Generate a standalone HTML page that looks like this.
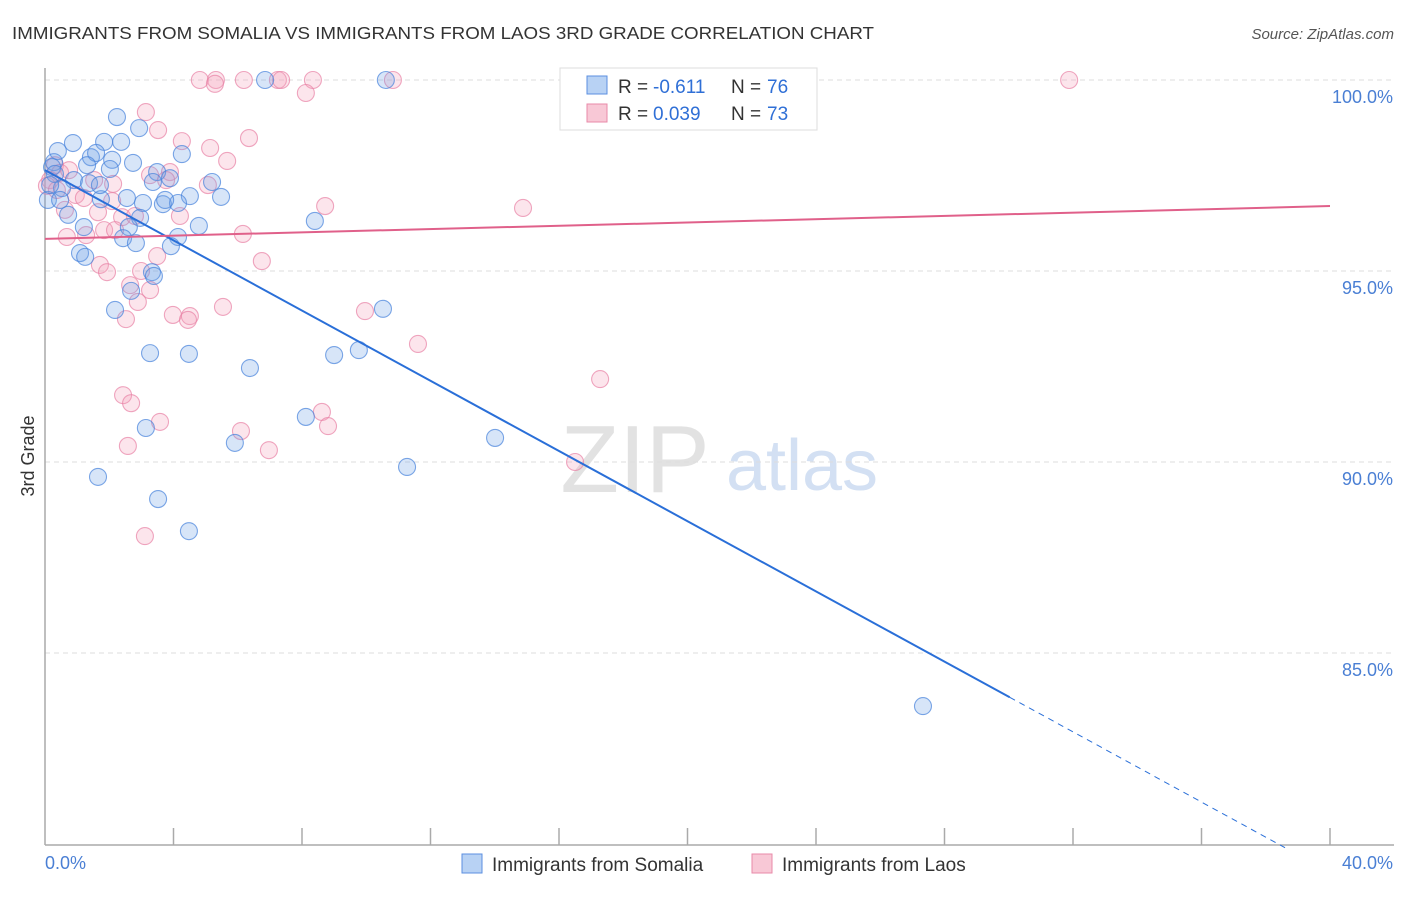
<!DOCTYPE html>
<html><head><meta charset="utf-8">
<style>
body{margin:0;background:#fff;font-family:"Liberation Sans",sans-serif;}
svg text{font-family:"Liberation Sans",sans-serif;}
</style></head>
<body>
<svg id="chart" width="1406" height="892" viewBox="0 0 1406 892" xmlns="http://www.w3.org/2000/svg">
<text x="12" y="39" font-size="17.5" fill="#333" textLength="862" lengthAdjust="spacingAndGlyphs">IMMIGRANTS FROM SOMALIA VS IMMIGRANTS FROM LAOS 3RD GRADE CORRELATION CHART</text>
<text x="1394" y="39" font-size="15" fill="#555" text-anchor="end" font-style="italic">Source: ZipAtlas.com</text>
<g>
<text x="635" y="492" font-size="96" fill="#e2e2e2" text-anchor="middle" font-family="Liberation Serif">ZIP</text>
<text x="802" y="490" font-size="72" fill="#d3e0f3" text-anchor="middle">atlas</text>
</g>
<g id="grid"></g>
<g id="axes"></g>
<g id="points"></g>
<g id="trends"></g>
<text transform="translate(34,456) rotate(-90)" font-size="18" fill="#333" text-anchor="middle">3rd Grade</text>
<g>
<rect x="560" y="68" width="257" height="62" fill="#fff" stroke="#ddd"/>
<rect x="587" y="76" width="20" height="18" fill="#b8d2f4" stroke="#5b8fe0"/>
<text x="618" y="93" font-size="19" fill="#333">R = </text>
<text x="653" y="93" font-size="19" fill="#2f6fd6">-0.611</text>
<text x="731" y="93" font-size="19" fill="#333">N = </text>
<text x="767" y="93" font-size="19" fill="#2f6fd6">76</text>
<rect x="587" y="104" width="20" height="18" fill="#f8c8d6" stroke="#e88aa8"/>
<text x="618" y="120" font-size="19" fill="#333">R = </text>
<text x="653" y="120" font-size="19" fill="#2f6fd6">0.039</text>
<text x="731" y="120" font-size="19" fill="#333">N = </text>
<text x="767" y="120" font-size="19" fill="#2f6fd6">73</text>
</g>
<g>
<rect x="462" y="854" width="20" height="19" fill="#b8d2f4" stroke="#5b8fe0"/>
<text x="492" y="871" font-size="19" fill="#333">Immigrants from Somalia</text>
<rect x="752" y="854" width="20" height="19" fill="#f8c8d6" stroke="#e88aa8"/>
<text x="782" y="871" font-size="19" fill="#333">Immigrants from Laos</text>
</g>
</svg>
<script>
const yTicks=[100,95,90,85];
const yTickLabels=["100.0%","95.0%","90.0%","85.0%"];
const xTickCount=10;
const xTickLabels=["0.0%","40.0%"];
const somaliaX=[6.85,10.61,2.24,2.93,0.87,1.84,2.37,0.40,1.43,4.26,0.28,1.59,2.09,2.74,1.31,2.02,0.22,0.31,0.90,1.37,3.49,3.89,3.36,5.20,0.53,0.09,1.74,2.55,3.05,4.51,5.48,3.67,4.14,0.72,1.21,2.96,2.61,4.79,8.40,2.43,2.83,4.14,3.92,1.09,1.25,3.33,3.39,2.68,2.18,10.52,3.27,4.48,6.38,9.00,9.77,8.12,3.14,5.91,14.01,1.65,11.27,3.52,4.48,27.33,0.47,1.71,0.16,3.74];
const somaliaY=[100,100,99.03,98.74,98.35,98.38,98.38,98.14,97.98,98.06,97.85,98.09,97.91,97.83,97.77,97.67,97.72,97.54,97.38,97.30,97.59,97.43,97.33,97.33,97.17,96.86,96.88,96.91,96.78,96.96,96.94,96.75,96.78,96.47,96.15,96.39,96.15,96.18,96.31,95.86,95.73,95.89,95.65,95.47,95.37,94.97,94.87,94.48,93.98,94.01,92.85,92.83,92.46,92.80,92.93,91.18,90.89,90.50,90.63,89.61,89.87,89.03,88.19,83.61,96.86,97.25,97.25,96.86];
const laosX=[4.82,5.32,5.29,6.19,7.25,7.35,8.34,8.12,10.83,31.88,3.14,3.52,4.26,5.14,6.35,5.67,0.31,0.47,0.16,0.75,0.06,0.37,2.12,3.89,3.77,5.07,0.96,1.21,2.09,1.65,2.40,2.80,4.20,8.72,14.88,0.68,1.28,1.84,6.16,1.71,1.93,2.99,3.49,6.75,2.65,3.27,2.89,5.54,2.52,3.98,4.51,4.45,9.96,11.61,17.28,2.43,2.68,8.62,8.81,3.58,6.10,2.58,6.97,16.50,3.11,1.53,0.62,2.18,3.27];
const laosY=[100,100,99.9,100,100,100,100,99.66,100,100,99.16,98.69,98.40,98.22,98.48,97.88,97.77,97.57,97.38,97.64,97.23,97.12,97.28,97.59,97.38,97.25,96.99,96.91,96.83,96.54,96.41,96.44,96.44,96.70,96.65,95.89,95.94,96.07,95.97,95.16,94.97,95.0,95.39,95.26,94.63,94.50,94.19,94.06,93.74,93.85,93.82,93.72,93.95,93.09,92.17,91.75,91.54,91.31,90.94,91.05,90.81,90.42,90.31,90.0,88.06,97.38,96.60,96.07,97.51];
const somaliaTrend=[97.64,79.26];
const laosTrend=[95.84,96.70];
const somaliaSolidEnd=30.03;

const NS="http://www.w3.org/2000/svg";
const X0=45,X1=1330,Y100=80,PX5=191,YB=845;
const sx=v=>X0+(v/40)*(X1-X0);
const sy=v=>Y100+(100-v)/5*PX5;
function mk(tag,attrs,parent){const e=document.createElementNS(NS,tag);for(const k in attrs)e.setAttribute(k,attrs[k]);parent.appendChild(e);return e;}
const grid=document.getElementById('grid'),axes=document.getElementById('axes'),pts=document.getElementById('points'),tr=document.getElementById('trends');
yTicks.forEach((t,i)=>{
 const l=mk('line',{x1:X0,x2:1394,y1:sy(t),y2:sy(t),stroke:'#ddd','stroke-dasharray':'5,4'},grid);
 
 
 const tx=mk('text',{x:1393,y:sy(t)+23,'font-size':18,fill:'#4a7fd4','text-anchor':'end'},grid);
 tx.textContent=yTickLabels[i];
 
 
});
const ya=mk('line',{x1:X0,x2:X0,y1:68,y2:YB,stroke:'#aaa','stroke-width':1.5},axes);


const xa=mk('line',{x1:X0,x2:1394,y1:YB,y2:YB,stroke:'#aaa','stroke-width':1.5},axes);


for(let i=1;i<=xTickCount;i++){
 const v=i*40/xTickCount;
 const t=mk('line',{x1:sx(v),x2:sx(v),y1:YB,y2:YB-17,stroke:'#aaa','stroke-width':1.5},axes);
 
 
}
const xl0=mk('text',{x:45,y:869,'font-size':18,fill:'#4a7fd4'},axes);xl0.textContent=xTickLabels[0];


const xl1=mk('text',{x:1393,y:869,'font-size':18,fill:'#4a7fd4','text-anchor':'end'},axes);xl1.textContent=xTickLabels[1];


function dots(xs,ys,fill,stroke,name){xs.forEach((x,i)=>{
 const c=mk('circle',{cx:sx(x),cy:sy(ys[i]),r:8.5,fill:fill,stroke:stroke,'stroke-width':1.1},pts);
 
 
});}
dots(laosX,laosY,'rgba(244,160,188,0.28)','rgba(232,130,165,0.7)','laos-point');
dots(somaliaX,somaliaY,'rgba(110,160,230,0.28)','rgba(70,130,220,0.7)','somalia-point');
const sAt=x=>somaliaTrend[0]+(somaliaTrend[1]-somaliaTrend[0])*x/40;
const t1=mk('line',{x1:sx(0),y1:sy(sAt(0)),x2:sx(somaliaSolidEnd),y2:sy(sAt(somaliaSolidEnd)),stroke:'#2a6fd8','stroke-width':2},tr);


const t2=mk('line',{x1:sx(somaliaSolidEnd),y1:sy(sAt(somaliaSolidEnd)),x2:sx(38.6),y2:sy(sAt(38.6)),stroke:'#2a6fd8','stroke-width':1,'stroke-dasharray':'6,5'},tr);


const t3=mk('line',{x1:sx(0),y1:sy(laosTrend[0]),x2:sx(40),y2:sy(laosTrend[1]),stroke:'#e0608a','stroke-width':2},tr);


</script>
</body></html>
